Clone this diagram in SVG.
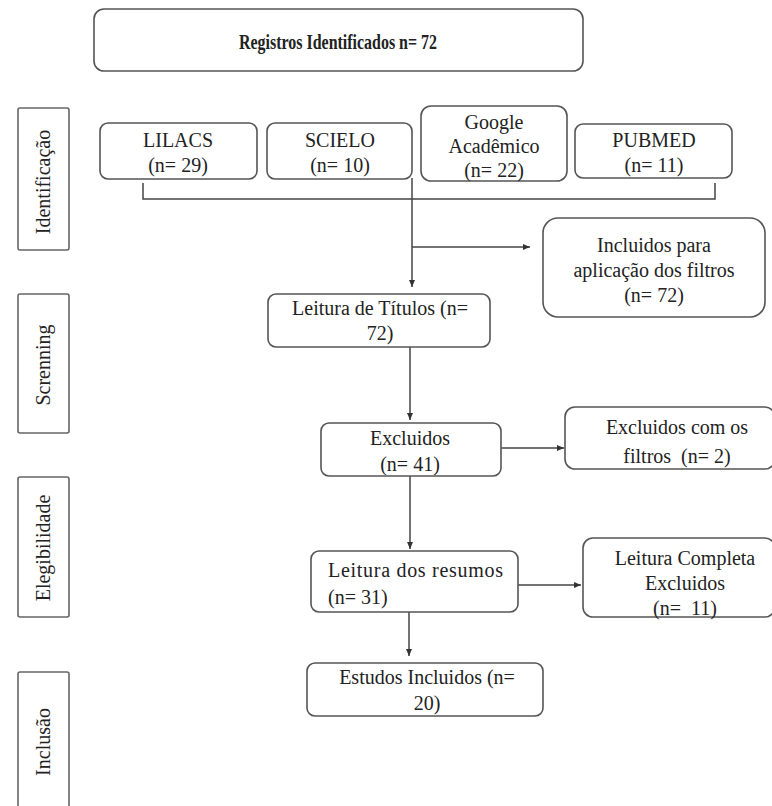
<svg xmlns="http://www.w3.org/2000/svg" width="772" height="806" viewBox="0 0 772 806" font-family="'Liberation Serif', 'Times New Roman', serif">
<style>
.box{fill:#fff;stroke:#555;stroke-width:1.6}
.side{fill:#fff;stroke:#666;stroke-width:1.6}
text{font-family:"Liberation Serif","Times New Roman",serif;font-size:20px;fill:#222;text-anchor:middle}
.tl{text-anchor:start}
.b{font-weight:bold}
.c{fill:none;stroke:#444;stroke-width:1.5}
</style>
<defs>
<marker id="ah" markerWidth="8" markerHeight="8" refX="7" refY="4" orient="auto" markerUnits="userSpaceOnUse">
<path d="M0,1 L7,4 L0,7 z" fill="#333"/>
</marker>
</defs>
<rect width="772" height="806" fill="#fff"/>

<g id="title">
<rect class="box" x="94" y="9" width="489" height="62" rx="10"/>
<text class="b" x="338" y="49" style="font-size:22px" textLength="198" lengthAdjust="spacingAndGlyphs">Registros Identificados n= 72</text>
</g>

<g id="stage-identificacao">
<rect class="side" x="18" y="108" width="51" height="142" rx="2"/>
<text transform="translate(50,182) rotate(-90)">Identificação</text>
</g>
<g id="stage-screnning">
<rect class="side" x="18" y="294" width="51" height="139" rx="2"/>
<text transform="translate(50,365) rotate(-90)">Screnning</text>
</g>
<g id="stage-elegibilidade">
<rect class="side" x="18" y="477" width="51" height="140" rx="2"/>
<text transform="translate(50,548) rotate(-90)">Elegibilidade</text>
</g>
<g id="stage-inclusao">
<rect class="side" x="18" y="672" width="51" height="145" rx="2"/>
<text transform="translate(50,742) rotate(-90)">Inclusão</text>
</g>

<g id="connectors">
<path class="c" d="M143,183 V199 H715 V183"/>
<path class="c" d="M412,178 V287" marker-end="url(#ah)"/>
<path class="c" d="M412,247 H530" marker-end="url(#ah)"/>
<path class="c" d="M410,347 V420" marker-end="url(#ah)"/>
<path class="c" d="M501,448 H564" marker-end="url(#ah)"/>
<path class="c" d="M410,476 V549" marker-end="url(#ah)"/>
<path class="c" d="M518,585 H581" marker-end="url(#ah)"/>
<path class="c" d="M409,612 V656" marker-end="url(#ah)"/>
</g>

<g id="lilacs">
<rect class="box" x="100" y="123" width="157" height="56" rx="8"/>
<text x="178" y="147">LILACS</text>
<text x="178" y="172">(n= 29)</text>
</g>
<g id="scielo">
<rect class="box" x="267" y="123" width="145" height="56" rx="8"/>
<text x="340" y="147">SCIELO</text>
<text x="340" y="172">(n= 10)</text>
</g>
<g id="google">
<rect class="box" x="421" y="106" width="146" height="75" rx="10"/>
<text x="494" y="129">Google</text>
<text x="494" y="153">Acadêmico</text>
<text x="494" y="177">(n= 22)</text>
</g>
<g id="pubmed">
<rect class="box" x="575" y="124" width="157" height="54" rx="8"/>
<text x="654" y="147">PUBMED</text>
<text x="654" y="172">(n= 11)</text>
</g>

<g id="incluidos-filtros">
<rect class="box" x="543" y="218" width="222" height="99" rx="15"/>
<text x="654" y="252">Incluidos para</text>
<text x="654" y="277">aplicação dos filtros</text>
<text x="654" y="302">(n= 72)</text>
</g>

<g id="leitura-titulos">
<rect class="box" x="268" y="294" width="222" height="53" rx="8"/>
<text x="380" y="315">Leitura de Títulos (n=</text>
<text x="380" y="340">72)</text>
</g>

<g id="excluidos">
<rect class="box" x="321" y="423" width="180" height="53" rx="8"/>
<text x="410" y="445">Excluidos</text>
<text x="410" y="471">(n= 41)</text>
</g>

<g id="excluidos-filtros">
<rect class="box" x="565" y="407" width="210" height="62" rx="10"/>
<text x="677" y="434">Excluidos com os</text>
<text x="677" y="463" xml:space="preserve">filtros  (n= 2)</text>
</g>

<g id="leitura-resumos">
<rect class="box" x="311" y="551" width="207" height="61" rx="8"/>
<text class="tl" x="328" y="577" textLength="175" lengthAdjust="spacing">Leitura dos resumos</text>
<text class="tl" x="328" y="604">(n= 31)</text>
</g>

<g id="leitura-completa">
<rect class="box" x="583" y="538" width="192" height="79" rx="10"/>
<text x="685" y="565">Leitura Completa</text>
<text x="685" y="590">Excluidos</text>
<text x="685" y="615" xml:space="preserve">(n=  11)</text>
</g>

<g id="estudos-incluidos">
<rect class="box" x="307" y="663" width="236" height="53" rx="8"/>
<text x="427" y="684">Estudos Incluidos (n=</text>
<text x="427" y="710">20)</text>
</g>
</svg>
